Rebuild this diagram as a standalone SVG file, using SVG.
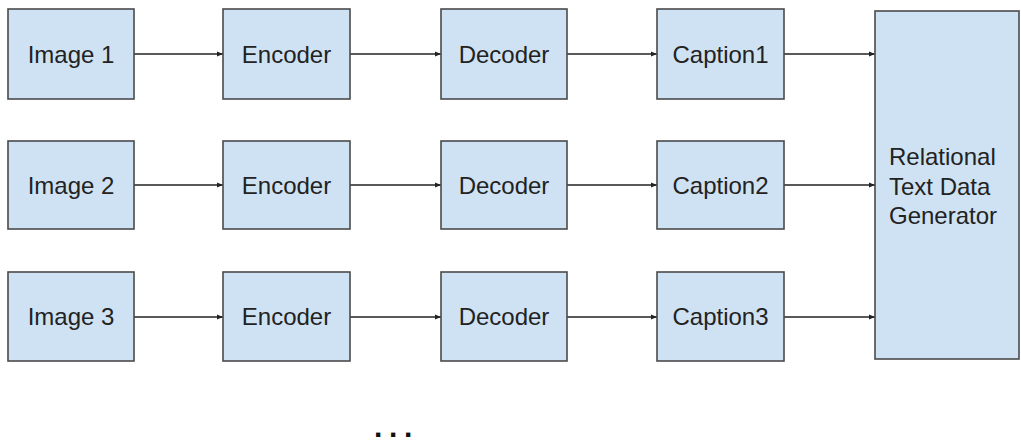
<svg xmlns="http://www.w3.org/2000/svg" width="1021" height="441" viewBox="0 0 1021 441">
<style>
.box{fill:#cfe2f3;stroke:#4a4a4a;stroke-width:1.6}
.lbl{font-family:"Liberation Sans",Arial,sans-serif;font-size:24px;fill:#222;text-anchor:middle}
.big{font-family:"Liberation Sans",Arial,sans-serif;font-size:24px;fill:#222}
.ln{stroke:#222;stroke-width:1.5;fill:none;marker-end:url(#ah)}
</style>
<defs>
<marker id="ah" viewBox="0 0 10 10" refX="10" refY="5" markerWidth="6" markerHeight="6" markerUnits="userSpaceOnUse" orient="auto">
<path d="M0,1 L10,5 L0,9 Z" fill="#222"/>
</marker>
</defs>
<g id="connectors">
<line class="ln" x1="134" y1="54" x2="223" y2="54"/>
<line class="ln" x1="350" y1="54" x2="441" y2="54"/>
<line class="ln" x1="567" y1="54" x2="657" y2="54"/>
<line class="ln" x1="784" y1="54" x2="875" y2="54"/>
<line class="ln" x1="134" y1="185" x2="223" y2="185"/>
<line class="ln" x1="350" y1="185" x2="441" y2="185"/>
<line class="ln" x1="567" y1="185" x2="657" y2="185"/>
<line class="ln" x1="784" y1="185" x2="875" y2="185"/>
<line class="ln" x1="134" y1="317" x2="223" y2="317"/>
<line class="ln" x1="350" y1="317" x2="441" y2="317"/>
<line class="ln" x1="567" y1="317" x2="657" y2="317"/>
<line class="ln" x1="784" y1="317" x2="875" y2="317"/>
</g>
<g id="image1"><rect class="box" x="8" y="9" width="126" height="90"/><text class="lbl" x="71" y="62.5">Image 1</text></g>
<g id="encoder1"><rect class="box" x="223" y="9" width="127" height="90"/><text class="lbl" x="286.5" y="62.5">Encoder</text></g>
<g id="decoder1"><rect class="box" x="441" y="9" width="126" height="90"/><text class="lbl" x="504" y="62.5">Decoder</text></g>
<g id="caption1"><rect class="box" x="657" y="9" width="127" height="90"/><text class="lbl" x="720.5" y="62.5">Caption1</text></g>
<g id="image2"><rect class="box" x="8" y="141" width="126" height="88"/><text class="lbl" x="71" y="193.5">Image 2</text></g>
<g id="encoder2"><rect class="box" x="223" y="141" width="127" height="88"/><text class="lbl" x="286.5" y="193.5">Encoder</text></g>
<g id="decoder2"><rect class="box" x="441" y="141" width="126" height="88"/><text class="lbl" x="504" y="193.5">Decoder</text></g>
<g id="caption2"><rect class="box" x="657" y="141" width="127" height="88"/><text class="lbl" x="720.5" y="193.5">Caption2</text></g>
<g id="image3"><rect class="box" x="8" y="272" width="126" height="89"/><text class="lbl" x="71" y="325">Image 3</text></g>
<g id="encoder3"><rect class="box" x="223" y="272" width="127" height="89"/><text class="lbl" x="286.5" y="325">Encoder</text></g>
<g id="decoder3"><rect class="box" x="441" y="272" width="126" height="89"/><text class="lbl" x="504" y="325">Decoder</text></g>
<g id="caption3"><rect class="box" x="657" y="272" width="127" height="89"/><text class="lbl" x="720.5" y="325">Caption3</text></g>
<g id="generator"><rect class="box" x="875" y="11" width="144" height="348"/>
<text class="big" x="889" y="165">Relational</text>
<text class="big" x="889" y="194.5">Text Data</text>
<text class="big" x="889" y="224">Generator</text>
</g>
<text x="374" y="437" style="font-family:'Liberation Sans',Arial,sans-serif;font-size:30px;font-weight:bold;fill:#111;letter-spacing:6.7px">...</text>
</svg>
